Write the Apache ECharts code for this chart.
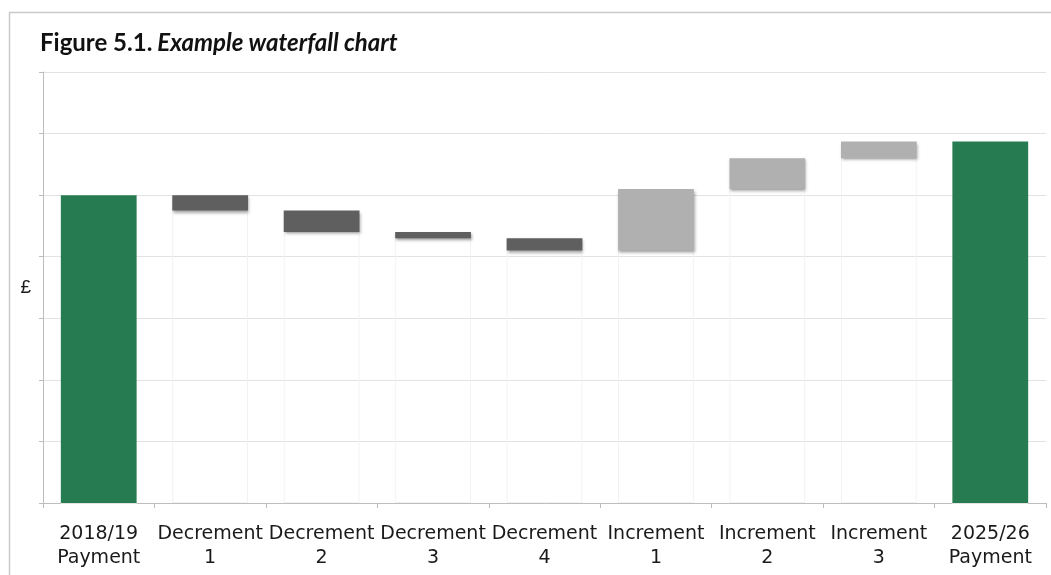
<!DOCTYPE html>
<html>
<head>
<meta charset="utf-8">
<script src="https://cdn.jsdelivr.net/npm/echarts@6/dist/echarts.min.js"></script>
<style>
html,body{margin:0;padding:0;background:#fff;}
#chart{width:1051px;height:575px;}
</style>
</head>
<body>
<div id="chart"></div>
<script>
// ---- data ----
const categories = ['2018/19\nPayment','Decrement\n1','Decrement\n2','Decrement\n3','Decrement\n4','Increment\n1','Increment\n2','Increment\n3','2025/26\nPayment'];
const startPayment = 5.0;
const decrements = [0.25, 0.35, 0.10, 0.20];
const increments = [1.00, 0.50, 0.27];
const yMax = 7;

// ---- build stacked waterfall series ----
const base = [], totals = [], decs = [], incs = [];
let level = startPayment;
base.push(0); totals.push(startPayment); decs.push('-'); incs.push('-');
decrements.forEach(d => { level -= d; base.push(level); decs.push(d); totals.push('-'); incs.push('-'); });
increments.forEach(d => { base.push(level); incs.push(d); level += d; totals.push('-'); decs.push('-'); });
base.push(0); totals.push(level); decs.push('-'); incs.push('-');

const chart = echarts.init(document.getElementById('chart'));
const shadow = {shadowBlur: 3, shadowColor: 'rgba(0,0,0,0.35)', shadowOffsetY: 2, shadowOffsetX: 1};
chart.setOption({
  animation: false,
  backgroundColor: '#fff',
  graphic: [{
    type: 'rect', left: 7, top: 10, shape: {width: 1100, height: 600},
    style: {fill: 'none', stroke: '#c9c9c9', lineWidth: 1.5}, silent: true
  }],
  title: {
    text: '{b|Figure 5.1.} {i|Example waterfall chart}',
    left: 35, top: 26,
    textStyle: {
      rich: {
        b: {fontFamily: 'Lato', fontWeight: 'bold', fontSize: 24, color: '#111'},
        i: {fontFamily: 'Lato', fontStyle: 'italic', fontSize: 24, color: '#111'}
      }
    }
  },
  grid: {left: 43, right: 5, top: 72, bottom: 72, containLabel: false},
  xAxis: {
    type: 'category', data: categories,
    axisLine: {lineStyle: {color: '#bdbdbd'}},
    axisTick: {show: true, length: 5, lineStyle: {color: '#bdbdbd'}},
    axisLabel: {interval: 0, margin: 19, fontFamily: 'DejaVu Sans', fontSize: 19, lineHeight: 24, color: '#1a1a1a'}
  },
  yAxis: {
    type: 'value', min: 0, max: yMax, interval: 1,
    name: '£', nameLocation: 'middle', nameRotate: 0, nameGap: 12,
    nameTextStyle: {fontFamily: 'Liberation Sans', fontSize: 19, color: '#1a1a1a'},
    axisLine: {show: true, lineStyle: {color: '#bdbdbd'}},
    axisTick: {show: true, length: 4, lineStyle: {color: '#bdbdbd'}},
    axisLabel: {show: false},
    splitLine: {lineStyle: {color: '#e2e2e2'}}
  },
  series: [
    {name: 'base', type: 'bar', stack: 'w', data: base, barWidth: '68%',
      itemStyle: {color: 'rgba(0,0,0,0)', borderColor: '#f2f2f2', borderWidth: 1}, silent: true},
    {name: 'total', type: 'bar', stack: 'w', data: totals,
      itemStyle: {color: '#277b51'}},
    {name: 'decrease', type: 'bar', stack: 'w', data: decs,
      itemStyle: Object.assign({color: '#5f5f5f'}, shadow)},
    {name: 'increase', type: 'bar', stack: 'w', data: incs,
      itemStyle: Object.assign({color: '#b0b0b0'}, shadow)}
  ]
});
</script>
</body>
</html>
